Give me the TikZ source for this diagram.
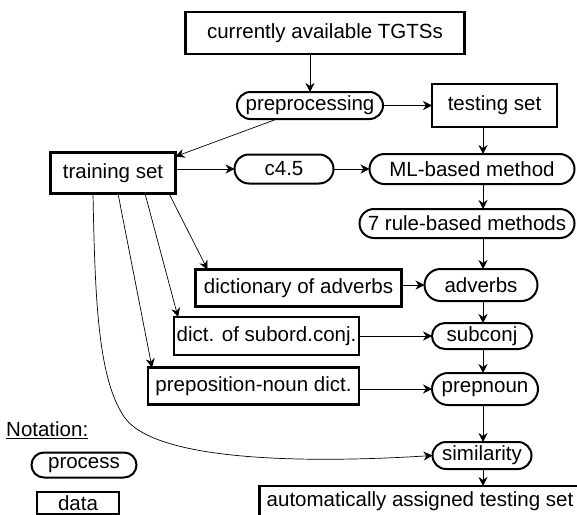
\documentclass[tikz,border=0pt]{standalone}
\usepackage{fontspec}
\setmainfont{Liberation Sans}
\usetikzlibrary{arrows.meta,positioning,shapes.misc}

\begin{document}
\begin{tikzpicture}[x=1pt,y=-1pt,font=\fontsize{20.5}{24}\selectfont,
data/.style={draw,line width=2.3pt,inner sep=0pt,outer sep=0pt,align=center},
process/.style={draw,rounded rectangle,line width=2pt,inner sep=0pt,outer sep=0pt,align=center},
arr/.style={-{Stealth[length=9pt,width=9pt]},line width=0.7pt}]
\clip (0,0) rectangle (577,514);
\node[data,minimum width=279pt,minimum height=42pt](avail) at (325,33){currently available TGTSs};
\node[process,minimum width=146pt,minimum height=27pt,below=38pt of avail,xshift=-15pt](pre){preprocessing};
\node[data,minimum width=125pt,minimum height=43pt,right=49pt of pre](test){testing set};
\node[data,minimum width=125pt,minimum height=41pt](train) at (113,173){training set};
\node[process,minimum width=99pt,minimum height=29pt,right=59pt of train,yshift=4pt](c45){c4.5};
\node[process,minimum width=205pt,minimum height=30pt,right=36pt of c45](ml){ML-based method};
\node[process,minimum width=215pt,minimum height=29pt,below=25pt of ml,xshift=-5pt](rule){7 rule-based methods};
\node[process,minimum width=113pt,minimum height=32pt,below=31pt of rule,xshift=14pt](adv){adverbs};
\node[data,minimum width=206pt,minimum height=37pt,left=23pt of adv,yshift=-3pt](dadv){dictionary of adverbs};
\node[process,minimum width=100pt,minimum height=26pt,below=22pt of adv,xshift=1pt](sub){subconj};
\node[data,minimum width=185pt,minimum height=38pt,left=73pt of sub](dsub){dict. of subord.conj.};
\node[process,minimum width=106pt,minimum height=32pt,below=24pt of sub,xshift=3pt](prep){prepnoun};
\node[data,minimum width=211pt,minimum height=37pt,left=73pt of prep,yshift=3pt](dprep){preposition-noun dict.};
\node[process,minimum width=99pt,minimum height=27pt,below=37pt of prep,xshift=-3pt](sim){similarity};
\node[data,minimum width=321pt,minimum height=31pt,below=17pt of sim,xshift=-62pt](auto){automatically assigned testing set};
% notation
\node[anchor=west,inner sep=0pt](notation) at (6,430){\underline{Notation:}};
\node[process,minimum width=105pt,minimum height=25pt](proc) at (84,465){process};
\node[data,minimum width=82pt,minimum height=22pt](dat) at (78,503){data};
\coordinate (col) at (483,0);
\draw[arr](avail.south -| pre.north)--(pre.north);
\draw[arr](pre.east)--(pre.east -| test.west);
\draw[arr]([xshift=-33pt]pre.south)--([yshift=-4pt]train.north east);
\draw[arr](train.east |- c45.west)--(c45.west);
\draw[arr](c45.east)--(c45.east -| ml.west);
\draw[arr](test.south -| col)--(ml.north -| col);
\draw[arr](ml.south -| col)--(rule.north -| col);
\draw[arr](rule.south -| col)--(adv.north -| col);
\draw[arr](adv.south -| col)--(sub.north -| col);
\draw[arr](sub.south -| col)--(prep.north -| col);
\draw[arr](prep.south -| col)--(sim.north -| col);
\draw[arr](sim.south -| col)--(auto.north -| col);
\draw[arr](dadv.east |- adv.west)--(adv.west);
\draw[arr](dsub.east |- sub.west)--(sub.west);
\draw[arr](dprep.east |- prep.west)--(prep.west);
\draw[arr]([xshift=56pt]train.south)--([xshift=12pt]dadv.north west);
\draw[arr]([xshift=32pt]train.south)--([xshift=4pt]dsub.north west);
\draw[arr]([xshift=5pt]train.south)--([xshift=4pt]dprep.north west);
\draw[arr]([xshift=-20pt]train.south) .. controls (95,300) and (98,380) .. (125,418) .. controls (160,465) and (330,462) .. (sim.west);
\end{tikzpicture}
\end{document}
